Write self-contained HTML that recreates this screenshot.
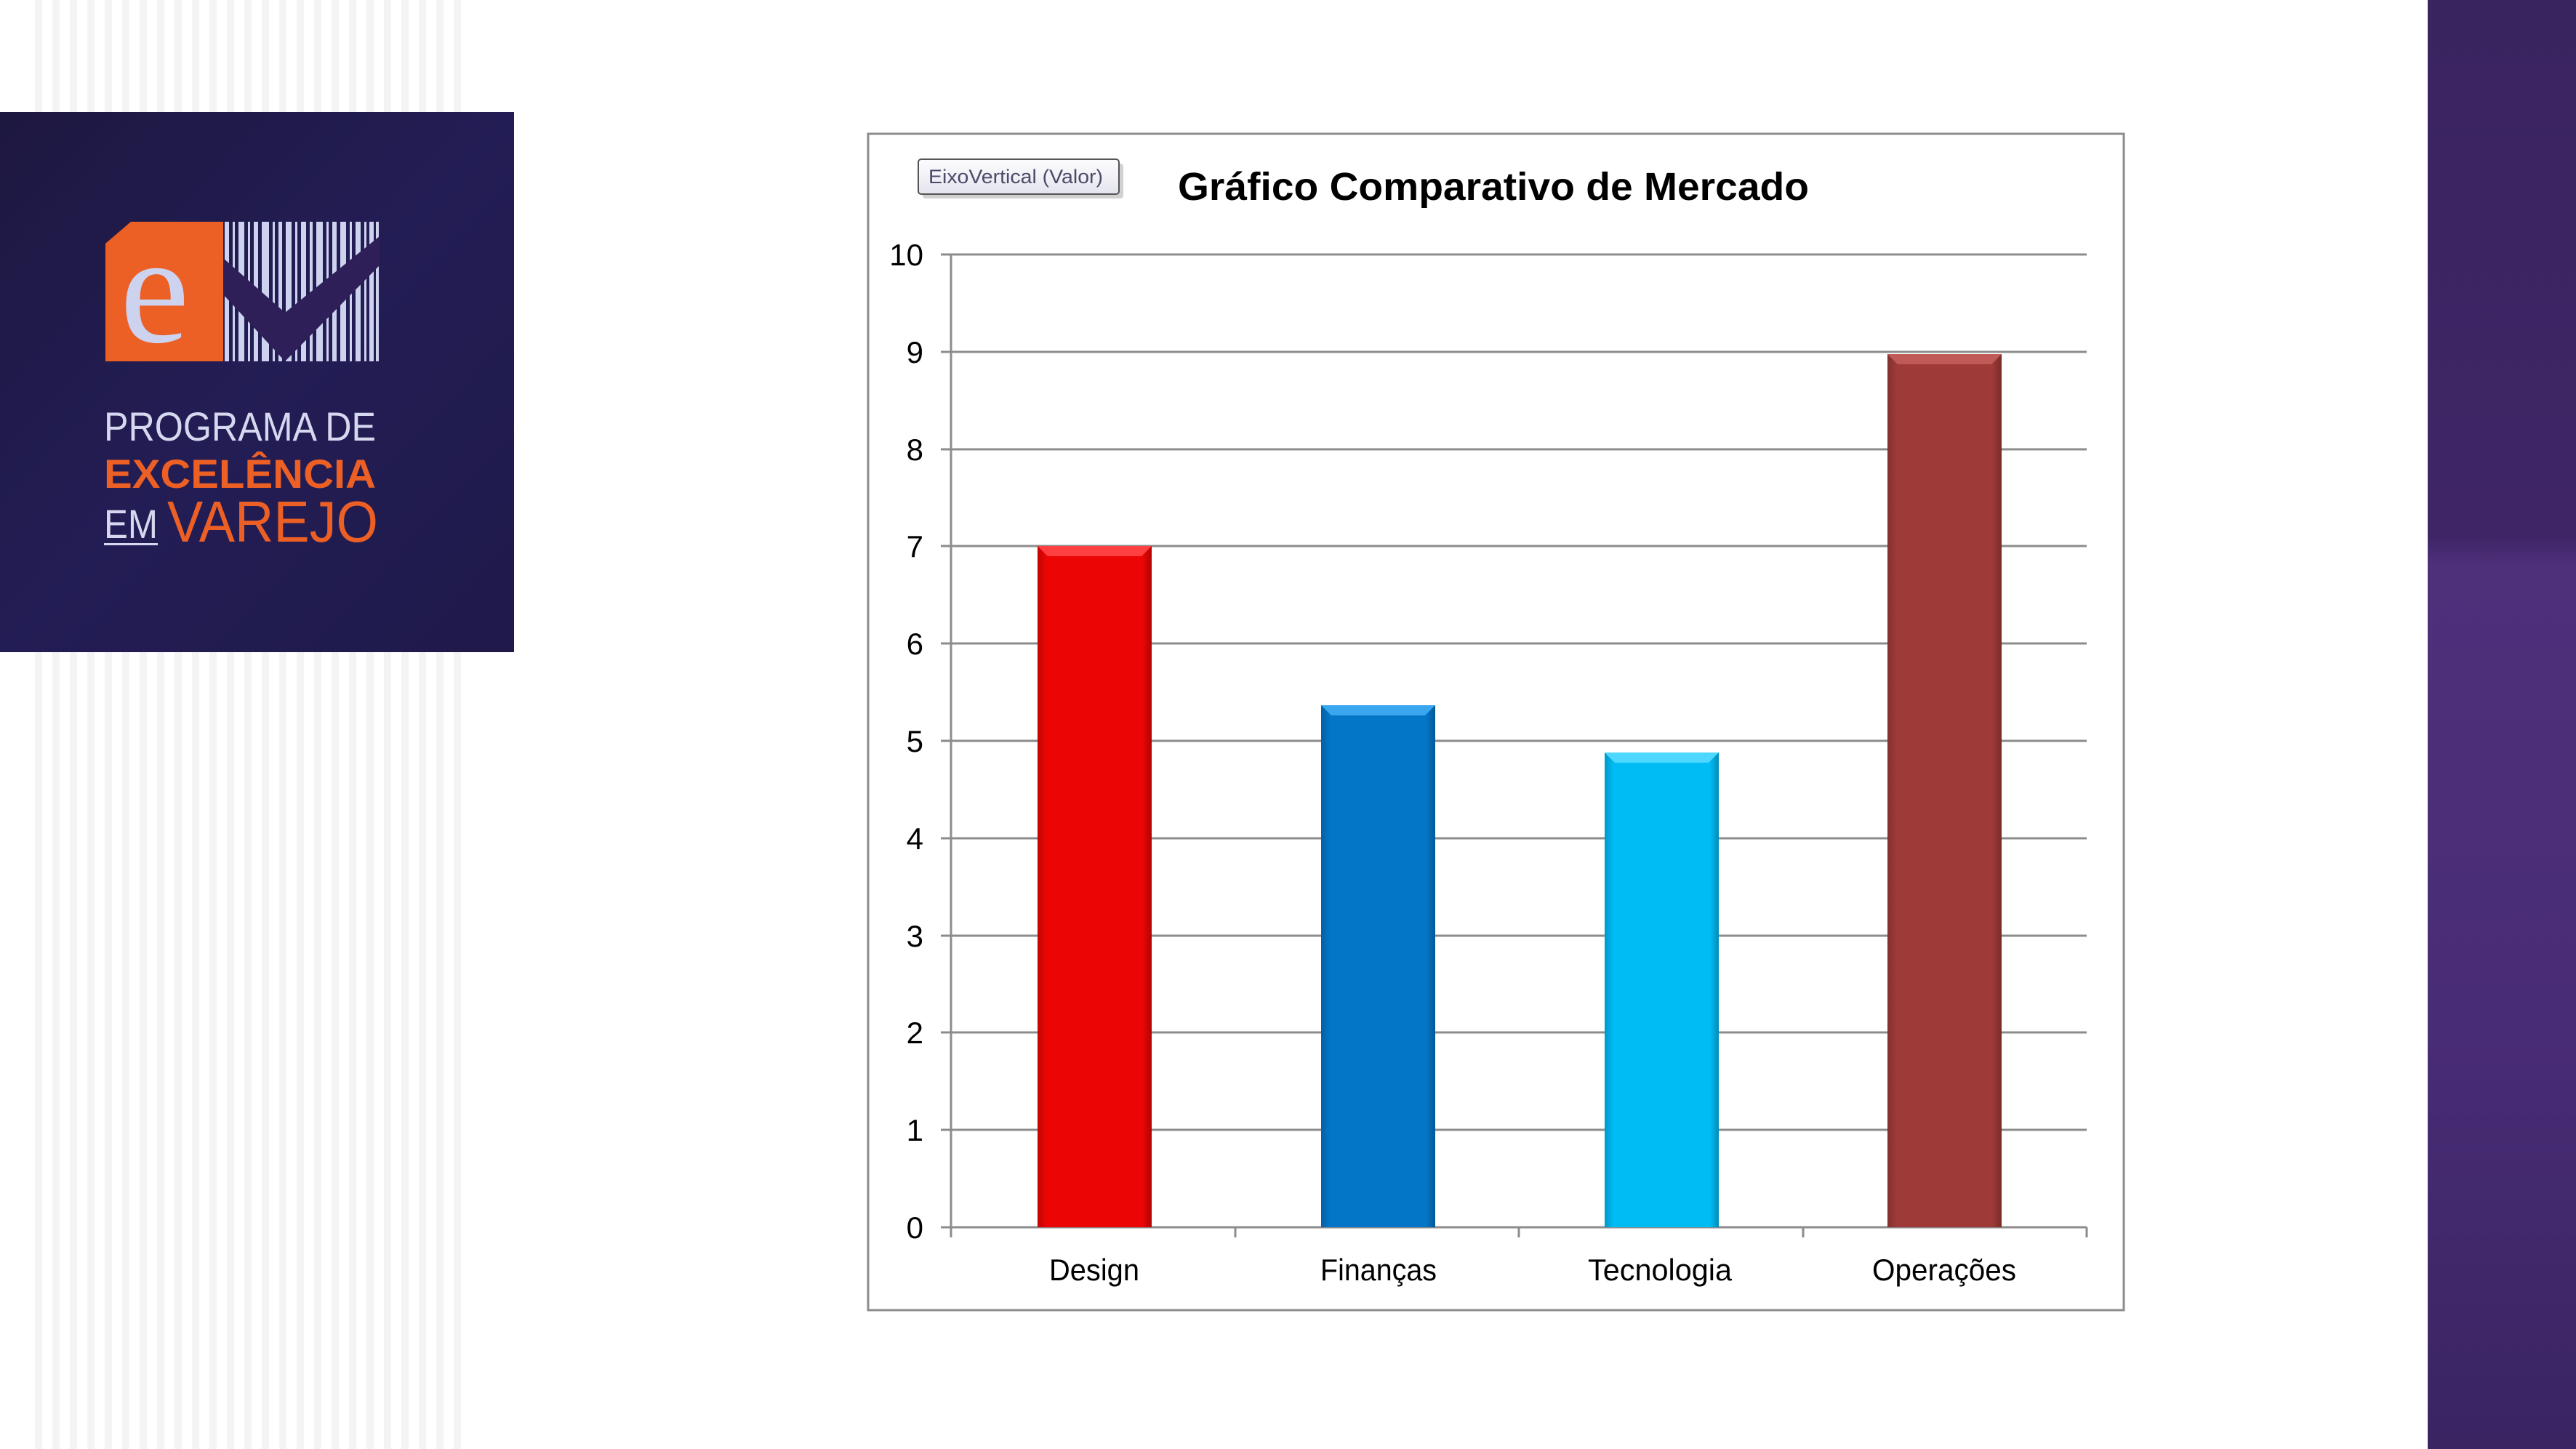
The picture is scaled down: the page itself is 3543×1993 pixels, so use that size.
<!DOCTYPE html>
<html><head><meta charset="utf-8"><style>
html,body{margin:0;padding:0;width:3543px;height:1993px;overflow:hidden;background:#fff}
</style></head><body>
<svg width="3543" height="1993" viewBox="0 0 3543 1993" xmlns="http://www.w3.org/2000/svg" style="position:absolute;left:0;top:0">
<defs>
<pattern id="st" width="24" height="10" patternUnits="userSpaceOnUse">
<rect x="0" y="0" width="10" height="10" fill="#f4f4f4"/>
</pattern>
<linearGradient id="pl" x1="0" y1="0" x2="1" y2="1">
<stop offset="0" stop-color="#1d1840"/><stop offset="0.5" stop-color="#231d55"/><stop offset="1" stop-color="#1f1a4a"/>
</linearGradient>
<linearGradient id="rp" x1="0" y1="0" x2="0" y2="1">
<stop offset="0" stop-color="#3a2460"/><stop offset="0.37" stop-color="#3f2566"/><stop offset="0.39" stop-color="#4e2f7a"/><stop offset="0.7" stop-color="#492c76"/><stop offset="1" stop-color="#3a2462"/>
</linearGradient>
<linearGradient id="sh" x1="0" y1="0" x2="1" y2="0">
<stop offset="0" stop-color="#000" stop-opacity="0.18"/><stop offset="0.08" stop-color="#000" stop-opacity="0"/><stop offset="0.92" stop-color="#000" stop-opacity="0"/><stop offset="1" stop-color="#000" stop-opacity="0.25"/>
</linearGradient>
<linearGradient id="tip" x1="0" y1="0" x2="0" y2="1">
<stop offset="0" stop-color="#fdfdff"/><stop offset="1" stop-color="#e4e4ee"/>
</linearGradient>
</defs>
<rect x="34" y="0" width="600" height="1993" fill="url(#st)"/>
<rect x="0" y="154" width="707" height="743" fill="url(#pl)"/>
<polygon points="145,335 180,305 307,305 307,497 145,497" fill="#ec5f25"/>
<text x="165" y="470" font-family="Liberation Serif, serif" font-size="215" fill="#cdd2ee">e</text>
<g fill="#cdd2ee">
<rect x="309" y="305" width="6" height="192"/><rect x="320" y="305" width="3" height="192"/><rect x="328" y="305" width="8" height="192"/><rect x="341" y="305" width="3" height="192"/><rect x="349" y="305" width="6" height="192"/><rect x="360" y="305" width="10" height="192"/><rect x="375" y="305" width="3" height="192"/><rect x="383" y="305" width="5" height="192"/><rect x="393" y="305" width="8" height="192"/><rect x="406" y="305" width="3" height="192"/><rect x="414" y="305" width="7" height="192"/><rect x="426" y="305" width="4" height="192"/><rect x="435" y="305" width="9" height="192"/><rect x="449" y="305" width="3" height="192"/><rect x="457" y="305" width="6" height="192"/><rect x="468" y="305" width="8" height="192"/><rect x="481" y="305" width="3" height="192"/><rect x="489" y="305" width="7" height="192"/><rect x="501" y="305" width="3" height="192"/><rect x="508" y="305" width="6" height="192"/><rect x="517" y="305" width="4" height="192"/>
</g>
<polygon points="307,355 392,430 522,325 522,365 392,497 307,405" fill="#2f1f58"/>
<text x="143" y="606" font-family="Liberation Sans, sans-serif" font-size="56" fill="#d6d8f0" textLength="374" lengthAdjust="spacingAndGlyphs">PROGRAMA DE</text>
<text x="143" y="671" font-family="Liberation Sans, sans-serif" font-weight="bold" font-size="56" fill="#ec5f25" textLength="374" lengthAdjust="spacingAndGlyphs">EXCELÊNCIA</text>
<text x="143" y="740" font-family="Liberation Sans, sans-serif" font-size="56" fill="#d6d8f0" textLength="74" lengthAdjust="spacingAndGlyphs">EM</text>
<rect x="143" y="747" width="74" height="3" fill="#d6d8f0"/>
<text x="230" y="745" font-family="Liberation Sans, sans-serif" font-size="80" fill="#ec5f25" textLength="290" lengthAdjust="spacingAndGlyphs">VAREJO</text>
<rect x="3339" y="0" width="204" height="1993" fill="url(#rp)"/>
<rect x="1194" y="184" width="1727" height="1618" fill="#fff" stroke="#8c8c8c" stroke-width="3"/>
<rect x="1269" y="225" width="276" height="48" rx="4" fill="#999" opacity="0.45"/>
<rect x="1263" y="219" width="276" height="48" rx="4" fill="url(#tip)" stroke="#555" stroke-width="2"/>
<text x="1277" y="252" font-family="Liberation Sans, sans-serif" font-size="27" fill="#4a4a6a" textLength="240" lengthAdjust="spacingAndGlyphs">EixoVertical (Valor)</text>
<text x="2054" y="275" text-anchor="middle" font-family="Liberation Sans, sans-serif" font-weight="bold" font-size="54" fill="#000" textLength="868" lengthAdjust="spacingAndGlyphs">Gráfico Comparativo de Mercado</text>
<g stroke="#8c8c8c" stroke-width="3">
<line x1="1294" y1="350" x2="2870" y2="350"/><line x1="1294" y1="484" x2="2870" y2="484"/><line x1="1294" y1="618" x2="2870" y2="618"/><line x1="1294" y1="751" x2="2870" y2="751"/><line x1="1294" y1="885" x2="2870" y2="885"/><line x1="1294" y1="1019" x2="2870" y2="1019"/><line x1="1294" y1="1153" x2="2870" y2="1153"/><line x1="1294" y1="1287" x2="2870" y2="1287"/><line x1="1294" y1="1420" x2="2870" y2="1420"/><line x1="1294" y1="1554" x2="2870" y2="1554"/><line x1="1294" y1="1688" x2="2870" y2="1688"/>
<line x1="1308" y1="350" x2="1308" y2="1702"/>
<line x1="1699" y1="1688" x2="1699" y2="1702"/><line x1="2089" y1="1688" x2="2089" y2="1702"/><line x1="2480" y1="1688" x2="2480" y2="1702"/><line x1="2870" y1="1688" x2="2870" y2="1702"/>
</g>
<g font-family="Liberation Sans, sans-serif" font-size="42" fill="#000" text-anchor="end">
<text x="1270" y="365">10</text><text x="1270" y="499">9</text><text x="1270" y="633">8</text><text x="1270" y="766">7</text><text x="1270" y="900">6</text><text x="1270" y="1034">5</text><text x="1270" y="1168">4</text><text x="1270" y="1302">3</text><text x="1270" y="1435">2</text><text x="1270" y="1569">1</text><text x="1270" y="1703">0</text>
</g>
<rect x="1427" y="751" width="157" height="937" fill="#ec0505"/>
<rect x="1427" y="751" width="157" height="937" fill="url(#sh)"/>
<polygon points="1427,751 1584,751 1570,765 1441,765" fill="#ff4040"/>
<rect x="1817" y="970" width="157" height="718" fill="#0476c8"/>
<rect x="1817" y="970" width="157" height="718" fill="url(#sh)"/>
<polygon points="1817,970 1974,970 1960,984 1831,984" fill="#3aa6f0"/>
<rect x="2207" y="1035" width="157" height="653" fill="#00bcf5"/>
<rect x="2207" y="1035" width="157" height="653" fill="url(#sh)"/>
<polygon points="2207,1035 2364,1035 2350,1049 2221,1049" fill="#4fd8ff"/>
<rect x="2596" y="487" width="157" height="1201" fill="#9e3a38"/>
<rect x="2596" y="487" width="157" height="1201" fill="url(#sh)"/>
<polygon points="2596,487 2753,487 2739,501 2610,501" fill="#c05a56"/>
<g font-family="Liberation Sans, sans-serif" font-size="42" fill="#000" text-anchor="middle">
<text x="1505" y="1761" textLength="124" lengthAdjust="spacingAndGlyphs">Design</text><text x="1896" y="1761" textLength="160" lengthAdjust="spacingAndGlyphs">Finanças</text><text x="2283" y="1761" textLength="198" lengthAdjust="spacingAndGlyphs">Tecnologia</text><text x="2674" y="1761" textLength="198" lengthAdjust="spacingAndGlyphs">Operações</text>
</g>
</svg>
</body></html>
